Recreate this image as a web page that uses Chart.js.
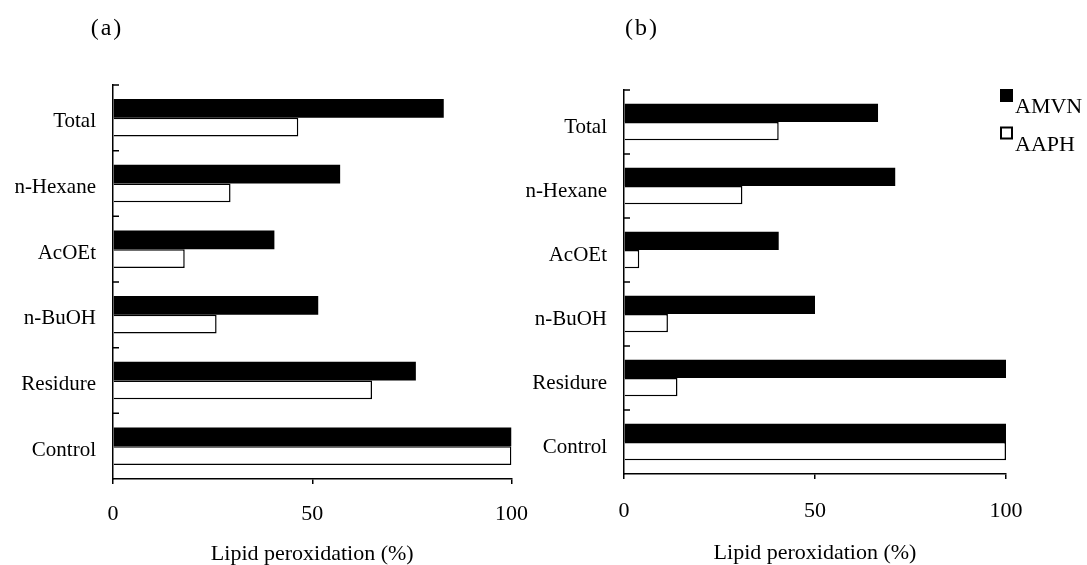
<!DOCTYPE html>
<html>
<head>
<meta charset="utf-8">
<script src="https://cdn.jsdelivr.net/npm/chart.js@4.4.1/dist/chart.umd.min.js"></script>
<style>
  html, body { margin: 0; padding: 0; background: #fff; }
  #wrap { position: relative; width: 1087px; height: 565px; overflow: hidden; }
  .panel { position: absolute; top: 0; height: 565px; }
  #boxA { left: 0; width: 545px; }
  #boxB { left: 500px; width: 587px; }
</style>
</head>
<body>
<div id="wrap">
  <div class="panel" id="boxA"><canvas id="chartA"></canvas></div>
  <div class="panel" id="boxB"><canvas id="chartB"></canvas></div>
</div>
<script>
// data (lipid peroxidation, % of control)
const categories = ['Total', 'n-Hexane', 'AcOEt', 'n-BuOH', 'Residure', 'Control'];
const seriesNames = ['AMVN', 'AAPH'];
const amvnA = [83, 57, 40.5, 51.5, 76, 100];
const aaphA = [46.5, 29.5, 18, 26, 65, 100];
const amvnB = [66.5, 71, 40.5, 50, 100, 100];
const aaphB = [40.5, 31, 4, 11.5, 14, 100];
const xTicks = [0, 50, 100];
const axisTitle = 'Lipid peroxidation (%)';

const serif = '"Liberation Serif", "Times New Roman", serif';

// small ticks pointing into the plot at the category boundaries
const innerTicks = {
  id: 'innerTicks',
  afterDraw(chart) {
    const y = chart.scales.y;
    const ctx = chart.ctx;
    const step = y.getPixelForValue(1) - y.getPixelForValue(0);
    ctx.save();
    ctx.strokeStyle = '#000';
    ctx.lineWidth = 1.5;
    ctx.beginPath();
    for (let i = 0; i < categories.length; i++) {
      const py = y.getPixelForValue(i) - step / 2;
      ctx.moveTo(y.right, py);
      ctx.lineTo(y.right + 6, py);
    }
    ctx.stroke();
    ctx.restore();
  }
};

const panelLabel = {
  id: 'panelLabel',
  afterDraw(chart, args, opts) {
    const ctx = chart.ctx;
    ctx.save();
    ctx.font = '24px ' + serif;
    ctx.letterSpacing = '2px';
    ctx.fillStyle = '#000';
    ctx.textAlign = 'center';
    ctx.textBaseline = 'middle';
    ctx.fillText(opts.text, opts.x, opts.y);
    ctx.restore();
  }
};

const boxLegend = {
  id: 'boxLegend',
  afterDraw(chart, args, opts) {
    if (!opts.show) return;
    const ctx = chart.ctx;
    ctx.save();
    ctx.font = '22px ' + serif;
    ctx.textBaseline = 'alphabetic';
    chart.data.datasets.forEach((ds, i) => {
      const top = opts.y + i * opts.gap;
      ctx.fillStyle = ds.backgroundColor;
      ctx.fillRect(opts.x, top, 13, 13);
      ctx.strokeStyle = '#000';
      ctx.lineWidth = 2;
      ctx.strokeRect(opts.x + 1, top + 1, 11, 11);
      ctx.fillStyle = '#000';
      ctx.fillText(ds.label, opts.x + 15, top + 24);
    });
    ctx.restore();
  }
};

function makeChart(id, amvn, aaph, cfg) {
  return new Chart(document.getElementById(id), {
    type: 'bar',
    data: {
      labels: categories,
      datasets: [
        { label: seriesNames[0], data: amvn, backgroundColor: '#000', borderWidth: 0 },
        { label: seriesNames[1], data: aaph, backgroundColor: '#fff', borderColor: '#000', borderWidth: 1.5, borderSkipped: 'start' }
      ]
    },
    options: {
      indexAxis: 'y',
      responsive: true,
      maintainAspectRatio: false,
      animation: false,
      layout: { padding: { top: cfg.top, right: cfg.right, left: 0, bottom: 0 } },
      datasets: { bar: { categoryPercentage: 0.57, barPercentage: 1.0 } },
      scales: {
        x: {
          min: 0,
          max: 100,
          afterBuildTicks: s => { s.ticks = xTicks.map(v => ({ value: v })); },
          border: { display: true, color: '#000', width: 1.5 },
          grid: { drawOnChartArea: false, drawTicks: true, tickLength: 5, color: '#000', lineWidth: 1.5 },
          ticks: { color: '#000', font: { family: serif, size: 22 }, padding: cfg.tickPad, maxRotation: 0, autoSkip: false },
          title: { display: true, text: axisTitle, color: '#000', font: { family: serif, size: 22, lineHeight: 1 }, padding: { top: 0, bottom: cfg.titlePad } },
          afterFit: s => { s.height = cfg.xHeight; }
        },
        y: {
          grid: { drawOnChartArea: false, drawTicks: false, color: '#000' },
          border: { display: true, color: '#000', width: 1.5 },
          ticks: { color: '#000', font: { family: serif, size: 21 }, padding: 17, labelOffset: cfg.labelShift, autoSkip: false },
          afterFit: s => { s.width = cfg.yWidth; }
        }
      },
      plugins: {
        legend: { display: false },
        tooltip: { enabled: false },
        panelLabel: { text: cfg.label, x: cfg.labelX, y: 29 },
        boxLegend: { show: cfg.legend, x: 500, y: 89, gap: 37.5 }
      }
    },
    plugins: [innerTicks, panelLabel, boxLegend]
  });
}

makeChart('chartA', amvnA, aaphA, {
  top: 85, right: 32, xHeight: 86, yWidth: 113, tickPad: 17, titlePad: 0,
  labelShift: 4, label: '(a)', labelX: 107, legend: false
});
makeChart('chartB', amvnB, aaphB, {
  top: 90, right: 81, xHeight: 91, yWidth: 124, tickPad: 19, titlePad: 1,
  labelShift: 5, label: '(b)', labelX: 142, legend: true
});
</script>
</body>
</html>
